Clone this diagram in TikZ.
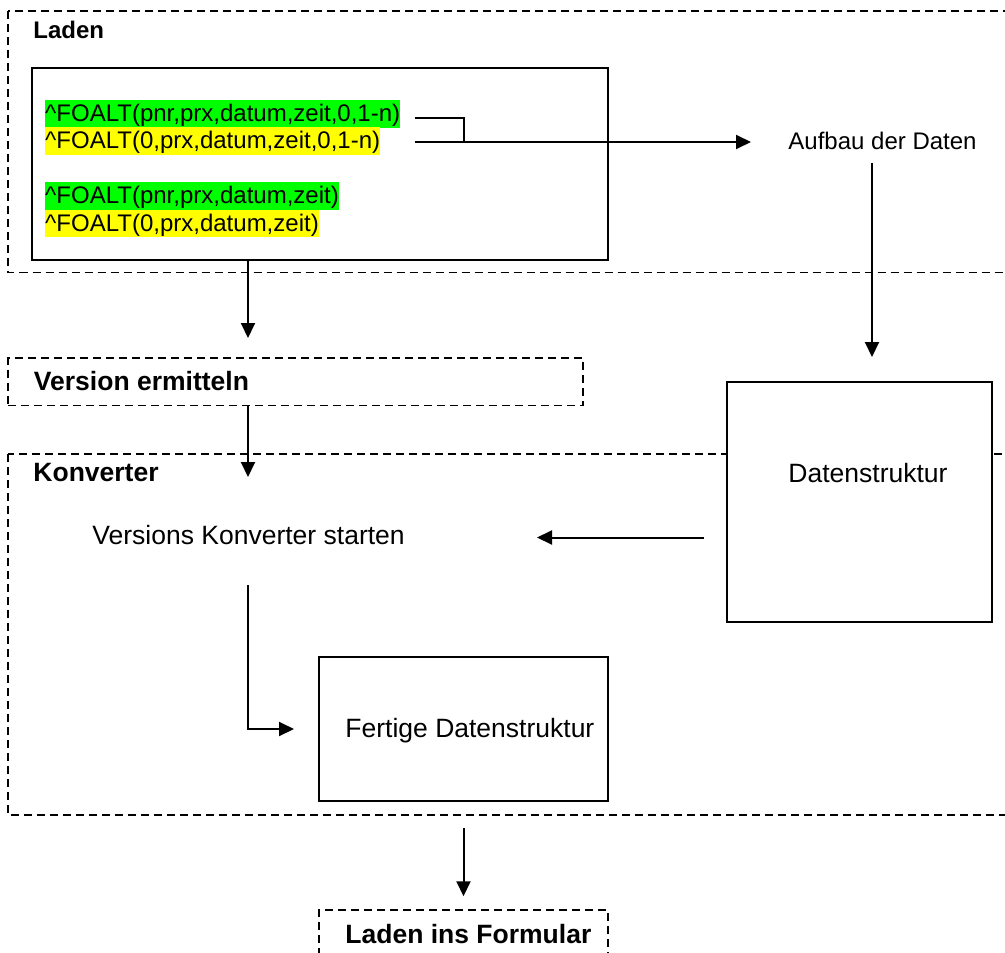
\documentclass[tikz,border=0pt]{standalone}
\usepackage{xcolor}
\usepackage{fontspec}
\setmainfont{Liberation Sans}
\usepackage{tikz}
\usetikzlibrary{arrows.meta}
\definecolor{hlgreen}{RGB}{0,255,0}
\definecolor{hlyellow}{RGB}{255,255,0}
\newcommand{\codesize}{\fontsize{24}{28}\selectfont}
\newcommand{\boxsize}{\fontsize{26.5}{31}\selectfont}

\begin{document}
\begin{tikzpicture}[x=1pt,y=1pt,yscale=-1,xscale=1,
  box/.style={draw, line width=2pt, fill=white, inner sep=0pt},
  frame/.style={draw, line width=1.5pt, dash pattern=on 8pt off 5pt},
  conn/.style={line width=2pt},
  arr/.style={conn, -{Triangle[length=15pt,width=14pt]}},
  hl/.style={inner sep=0pt, text height=21.5pt, text depth=6pt, anchor=base west, font=\codesize},
  lbl/.style={inner sep=0.75pt, anchor=base west}]
\useasboundingbox (0,0) rectangle (1005,953);
\clip (0,0) rectangle (1005,953);
\draw[frame] (8,11) rectangle (1015,272.5) ;
\draw[frame] (8,454) rectangle (1015,815) ;
\node[box, minimum width=576, minimum height=192] (code) at (320,164) {};
\node[frame, inner sep=0pt, minimum width=575, minimum height=47.5] (version) at (295.5,381.75) {};
\node[box, minimum width=265, minimum height=240] (daten) at (859.5,502) {};
\node[box, minimum width=289, minimum height=144] (fertig) at (463.5,729) {};
\node[frame, inner sep=0pt, minimum width=289, minimum height=60] (formular) at (463.5,940) {};
%Text
\draw (45,121.5) node [hl, fill=hlgreen] (l1) {\^{}FOALT(pnr,prx,datum,zeit,0,1-n)};
\draw (45,148.5) node [hl, fill=hlyellow] (l2) {\^{}FOALT(0,prx,datum,zeit,0,1-n)};
\draw (45,203.5) node [hl, fill=hlgreen] (l3) {\^{}FOALT(pnr,prx,datum,zeit)};
\draw (45,231) node [hl, fill=hlyellow] (l4) {\^{}FOALT(0,prx,datum,zeit)};
\draw (32.5,38) node [lbl, font=\codesize\bfseries] (ladenlbl) {Laden};
\draw (33,390) node [lbl, font=\boxsize\bfseries] (versionlbl) {Version ermitteln};
\draw (32.5,481) node [lbl, font=\boxsize\bfseries] (konvlbl) {Konverter};
\draw (344.5,943) node [lbl, font=\boxsize\bfseries] (formularlbl) {Laden ins Formular};
\draw (787.5,149.5) node [lbl, font=\codesize] (aufbau) {Aufbau der Daten};
\draw (787.5,482.5) node [lbl, font=\boxsize] (datenlbl) {Datenstruktur};
\draw (91.5,544) node [lbl, font=\boxsize] (starten) {Versions Konverter starten};
\draw (344.5,737) node [lbl, font=\boxsize] (fertiglbl) {Fertige Datenstruktur};
%Arrows
\coordinate (j1) at (415,118) ;
\coordinate (j2) at (415,142) ;
\coordinate (a1) at (248,338) ;
\coordinate (a2) at (248,477) ;
\coordinate (a4) at (537,537.5) ;
\coordinate (a5) at (248,585) ;
\draw[conn] (j1) -- (464,118) -- (464,142) ;
\draw[arr] (j2) -- ([xshift=-36.5pt]aufbau.west |- j2) ;
\draw[arr, shorten <=12pt] (aufbau.south -| 872,0) -- (872,357) ;
\draw[arr] (code.south -| a1) -- (a1) ;
\draw[arr] (version.south -| a2) -- (a2) ;
\draw[arr] ([xshift=-22.5pt]daten.west |- a4) -- (a4) ;
\draw[arr] (a5) |- ([xshift=-24pt]fertig.west) ;
\draw[arr] ([yshift=26pt]fertig.south) -- ([yshift=-13pt]formular.north) ;
\end{tikzpicture}
\end{document}
